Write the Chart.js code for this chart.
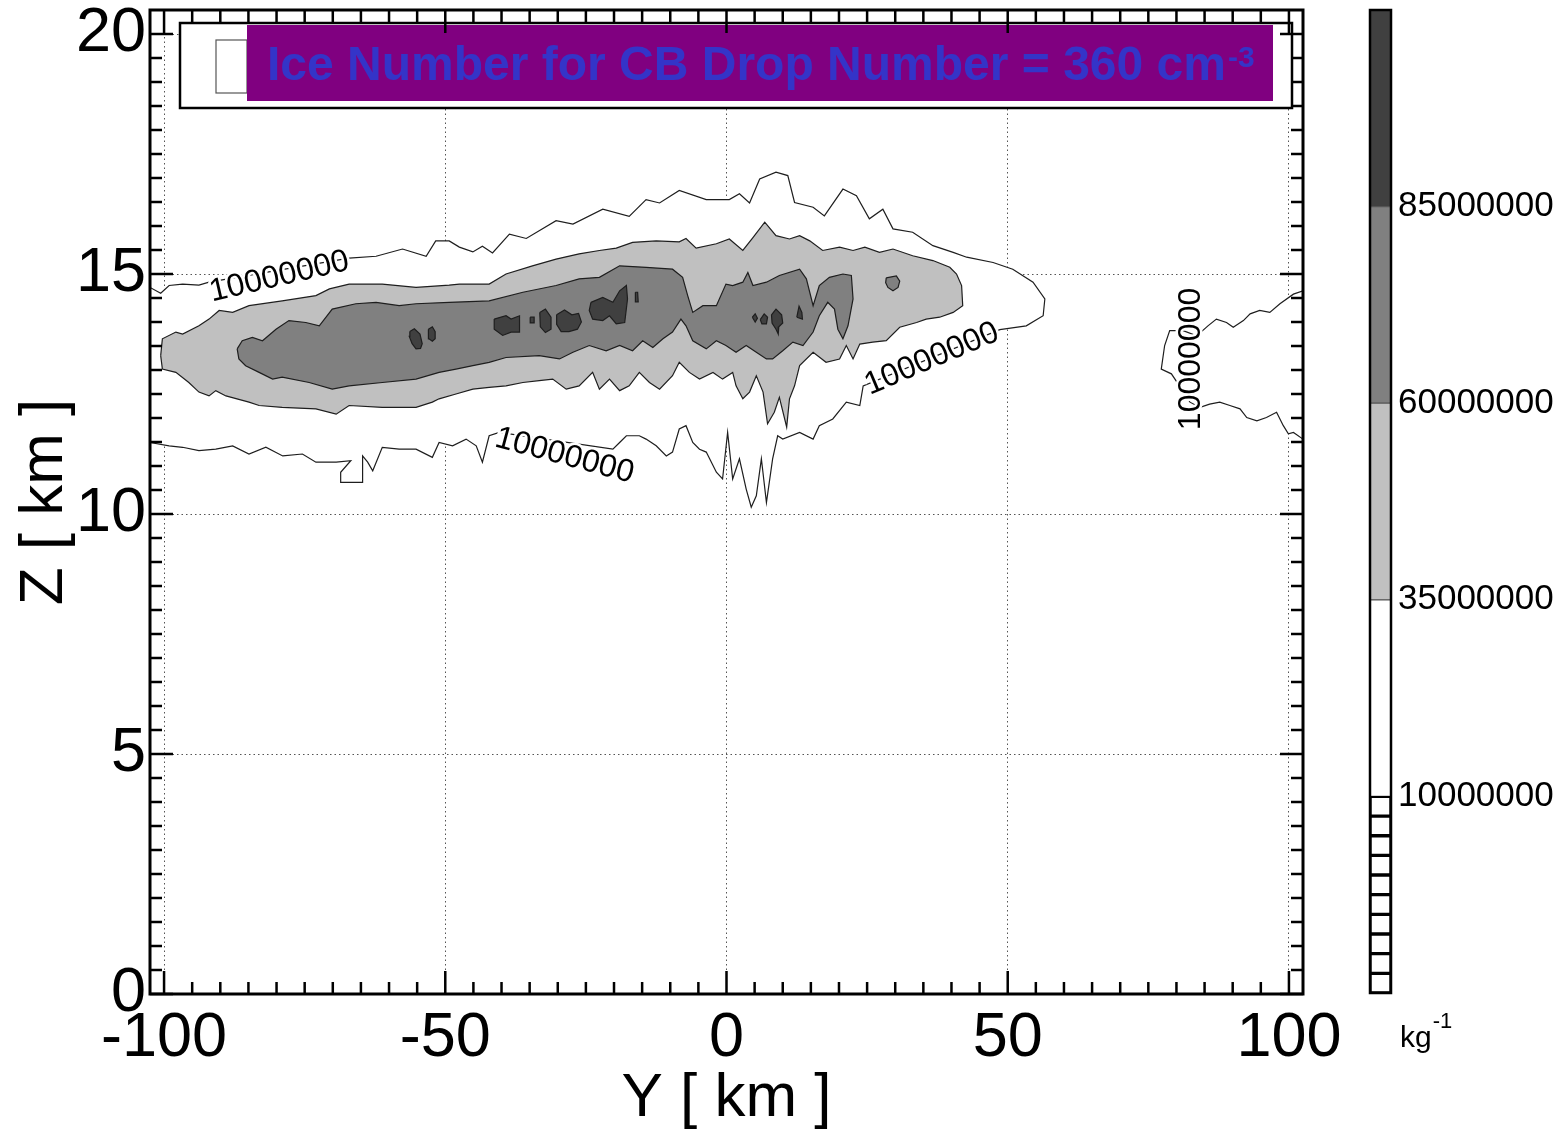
<!DOCTYPE html>
<html>
<head>
<meta charset="utf-8">
<script src="https://cdn.jsdelivr.net/npm/chart.js@4.4.1/dist/chart.umd.min.js"></script>
<style>
html, body { margin: 0; padding: 0; background: #fff; }
#wrap { position: relative; width: 1563px; height: 1133px; }
#main { position: absolute; left: 0; top: 0; }
#bar { position: absolute; left: 1340px; top: 0; }
</style>
</head>
<body>
<div id="wrap">
<canvas id="main" width="1340" height="1133"></canvas>
<canvas id="bar" width="223" height="1133"></canvas>
</div>
<script>
// ======================================
// Data (Y [km], Z [km])
// ======================================

const xMajor = [-100, -50, 0, 50, 100];
const yMajor = [0, 5, 10, 15, 20];

// 10000000 kg-1 contour, main cloud (closed along the left border)
const c10Main = [
    [-102.5, 14.72], [-100.6, 14.60], [-99.1, 14.76], [-96.7, 14.79], [-93.8, 14.77], [-92.0, 14.83],
    [-67.1, 15.33], [-62.3, 15.37], [-57.6, 15.52], [-53.4, 15.37], [-51.7, 15.69], [-49.3, 15.69],
    [-47.5, 15.56], [-45.1, 15.46], [-43.4, 15.58], [-41.6, 15.44], [-38.6, 15.83], [-35.6, 15.74],
    [-30.3, 16.11], [-27.3, 16.04], [-22.0, 16.35], [-17.3, 16.20], [-14.3, 16.55], [-11.9, 16.48],
    [-8.4, 16.74], [-3.6, 16.55], [0.5, 16.55], [2.3, 16.67], [4.1, 16.48], [5.9, 16.98],
    [8.8, 17.12], [10.9, 17.05], [12.1, 16.49], [15.4, 16.39], [17.4, 16.21], [20.7, 16.77],
    [23.1, 16.63], [25.4, 16.15], [27.8, 16.35], [29.6, 15.94], [33.1, 15.87], [36.7, 15.59],
    [40.3, 15.45], [42.7, 15.35], [47.4, 15.24], [50.9, 15.10], [54.5, 14.83], [56.6, 14.48],
    [56.3, 14.13], [53.3, 13.92], [48.6, 13.84],
    [24.3, 12.67], [23.7, 12.26], [21.3, 12.33], [18.9, 11.98], [16.5, 11.84], [15.4, 11.56],
    [13.0, 11.70], [10.0, 11.56], [9.1, 11.63], [8.2, 11.15], [7.1, 10.24], [6.2, 11.15],
    [5.3, 10.38], [4.4, 10.14], [3.5, 10.52], [2.3, 11.15], [1.1, 10.73], [0.2, 11.70],
    [-0.7, 10.73], [-1.8, 10.87], [-3.6, 11.29], [-4.8, 11.35], [-6.0, 11.49], [-7.2, 11.84],
    [-8.4, 11.77], [-9.6, 11.29], [-10.7, 11.21], [-12.5, 11.42], [-14.3, 11.56], [-15.5, 11.63],
    [-17.8, 11.63], [-19.0, 11.49], [-20.2, 11.35],
    [-40.4, 11.70], [-42.2, 11.63], [-43.4, 11.08], [-44.5, 11.42], [-46.3, 11.56], [-48.7, 11.42],
    [-51.1, 11.49], [-52.3, 11.18], [-55.2, 11.35], [-58.2, 11.35], [-61.2, 11.39], [-62.9, 10.90],
    [-63.8, 11.08], [-64.7, 11.21], [-64.7, 10.66], [-68.6, 10.66], [-68.6, 10.87], [-66.8, 11.11],
    [-69.4, 11.08], [-73.0, 11.08], [-75.4, 11.25], [-78.9, 11.21], [-81.9, 11.39], [-84.9, 11.25],
    [-87.8, 11.42], [-90.8, 11.35], [-93.8, 11.32], [-96.7, 11.39], [-99.1, 11.42], [-102.5, 11.49]
];

// 10000000 kg-1 contour entering from the right border
const c10Right = [
    [102.5, 14.65], [100.8, 14.58], [98.4, 14.38], [96.6, 14.20], [94.8, 14.24], [93.1, 14.17],
    [91.9, 14.03], [90.1, 13.89], [88.9, 13.99], [87.1, 14.06], [85.6, 13.92], [83.6, 13.71],
    [81.2, 13.82], [78.8, 13.82], [77.9, 13.51], [77.3, 13.02], [79.1, 12.92], [80.3, 12.71],
    [82.4, 12.33], [84.2, 12.22], [85.9, 12.29], [87.7, 12.33], [89.5, 12.26], [91.3, 12.19],
    [92.5, 12.01], [94.3, 11.94], [96.0, 12.01], [97.8, 12.12], [99.0, 11.84], [99.9, 11.67],
    [100.8, 11.70], [102.5, 11.56]
];

// 35000000 kg-1 band
const c35 = [
    [-100.6, 13.30], [-100.3, 13.65], [-97.9, 13.79], [-96.7, 13.75], [-93.8, 13.92], [-92.0, 14.06],
    [-90.2, 14.24], [-87.8, 14.20], [-84.9, 14.34], [-79.0, 14.44], [-73.0, 14.55], [-70.6, 14.69],
    [-67.1, 14.79], [-61.2, 14.79], [-55.2, 14.72], [-49.3, 14.77], [-47.5, 14.79], [-42.2, 14.79],
    [-39.2, 15.00], [-34.5, 15.17], [-30.3, 15.31], [-26.2, 15.42], [-22.6, 15.49], [-19.6, 15.54],
    [-16.7, 15.66], [-12.5, 15.69], [-8.4, 15.67], [-7.2, 15.74], [-5.4, 15.54], [-1.8, 15.63],
    [0.5, 15.73], [2.9, 15.49], [4.7, 15.76], [6.8, 16.08], [8.8, 15.80], [11.2, 15.73],
    [13.0, 15.80], [14.8, 15.69], [17.1, 15.49], [20.1, 15.56], [22.5, 15.49], [24.6, 15.56],
    [27.2, 15.45], [29.6, 15.52], [33.1, 15.38], [36.7, 15.28], [39.7, 15.14], [40.9, 15.00],
    [41.8, 14.76], [42.0, 14.34], [40.3, 14.20], [37.9, 14.10], [35.5, 14.06], [33.8, 13.99],
    [30.8, 13.89], [28.4, 13.61], [26.0, 13.58], [23.7, 13.54], [22.5, 13.23], [21.3, 13.51],
    [20.1, 13.23], [17.7, 13.16], [15.4, 13.37], [13.0, 13.09], [12.1, 12.67], [11.2, 12.40],
    [10.7, 11.81], [9.4, 12.43], [8.5, 12.12], [7.3, 11.88], [6.5, 12.54], [5.3, 12.88],
    [4.1, 12.54], [2.9, 12.40], [1.7, 12.67], [1.1, 12.95], [-0.7, 12.81], [-2.4, 12.95],
    [-4.8, 12.81], [-6.6, 12.95], [-8.4, 13.16], [-9.6, 12.88], [-11.9, 12.60], [-13.7, 12.74],
    [-15.5, 12.95], [-17.3, 12.67], [-19.0, 12.57], [-20.8, 12.81], [-22.6, 12.60], [-23.8, 12.95],
    [-26.2, 12.67], [-28.5, 12.60], [-30.9, 12.81], [-33.3, 12.78], [-36.2, 12.74], [-39.2, 12.67],
    [-42.2, 12.64], [-45.1, 12.60], [-48.1, 12.50], [-51.1, 12.40], [-52.3, 12.33], [-55.2, 12.22],
    [-61.2, 12.22], [-67.1, 12.26], [-69.4, 12.08], [-73.0, 12.19], [-79.0, 12.22], [-83.1, 12.26],
    [-84.9, 12.33], [-89.0, 12.46], [-90.8, 12.57], [-92.0, 12.46], [-93.8, 12.54], [-95.6, 12.74],
    [-97.9, 12.95], [-100.3, 13.02]
];

// 60000000 kg-1 band
const c60Main = [
    [-87.0, 13.44], [-86.1, 13.61], [-84.3, 13.68], [-82.5, 13.61], [-80.1, 13.85], [-77.8, 14.03],
    [-74.8, 13.99], [-72.4, 13.92], [-70.1, 14.27], [-65.9, 14.38], [-62.3, 14.41], [-58.2, 14.34],
    [-55.2, 14.38], [-49.3, 14.41], [-42.2, 14.44], [-36.2, 14.62], [-30.3, 14.76], [-26.2, 14.90],
    [-22.6, 14.93], [-19.0, 15.17], [-14.3, 15.14], [-9.6, 15.10], [-7.8, 14.93], [-6.9, 14.55],
    [-6.0, 14.20], [-4.2, 14.34], [-1.8, 14.34], [-0.1, 14.79], [1.1, 14.76], [2.9, 14.83],
    [3.8, 15.03], [4.7, 14.76], [7.1, 14.83], [9.4, 14.97], [13.0, 15.10], [14.2, 14.90],
    [15.4, 14.34], [16.5, 14.76], [18.3, 14.93], [20.7, 15.00], [22.2, 14.97], [22.5, 14.48],
    [21.6, 13.92], [20.7, 13.65], [19.8, 13.85], [19.2, 14.27], [18.0, 14.41], [16.5, 14.13],
    [15.4, 13.79], [13.6, 13.51], [11.8, 13.58], [10.0, 13.40], [8.2, 13.23], [7.1, 13.23],
    [5.3, 13.37], [3.5, 13.51], [1.7, 13.37], [-0.1, 13.51], [-1.8, 13.61], [-3.6, 13.44],
    [-6.0, 13.61], [-7.2, 13.92], [-8.1, 14.06], [-9.6, 13.79], [-11.3, 13.65], [-13.1, 13.47],
    [-14.9, 13.61], [-16.7, 13.40], [-19.0, 13.51], [-21.4, 13.40], [-24.4, 13.51], [-27.3, 13.37],
    [-29.7, 13.23], [-33.3, 13.30], [-39.2, 13.26], [-42.2, 13.16], [-45.1, 13.09], [-48.1, 13.02],
    [-51.1, 12.95], [-55.2, 12.81], [-61.2, 12.74], [-67.1, 12.67], [-70.1, 12.60], [-74.2, 12.74],
    [-79.0, 12.85], [-80.7, 12.81], [-83.1, 12.95], [-85.5, 13.09], [-86.7, 13.23]
];

const c60Island = [
    [28.4, 14.92], [30.2, 14.96], [30.8, 14.85], [30.5, 14.72], [29.6, 14.65], [28.7, 14.72], [28.3, 14.82]
];

// 85000000 kg-1 cells
const c85Cells = [
    [[-56.3, 13.80], [-55.5, 13.86], [-54.5, 13.75], [-54.1, 13.55], [-54.4, 13.45], [-55.2, 13.44], [-55.9, 13.55], [-56.4, 13.70]],
    [[-53.0, 13.85], [-52.3, 13.90], [-51.8, 13.80], [-51.8, 13.65], [-52.3, 13.60], [-52.9, 13.65]],
    [[-41.3, 14.06], [-39.2, 14.13], [-38.3, 14.06], [-36.8, 14.13], [-36.8, 13.79], [-38.3, 13.79], [-39.8, 13.72], [-41.3, 13.85]],
    [[-34.9, 14.10], [-34.2, 14.10], [-34.2, 13.98], [-34.9, 13.98]],
    [[-33.2, 14.20], [-32.2, 14.27], [-31.2, 14.10], [-31.2, 13.85], [-32.2, 13.78], [-33.1, 13.90]],
    [[-30.2, 14.15], [-28.8, 14.25], [-27.5, 14.15], [-26.3, 14.18], [-25.8, 14.00], [-26.5, 13.85], [-28.0, 13.80], [-29.4, 13.80], [-30.2, 13.95]],
    [[-24.1, 14.41], [-22.0, 14.51], [-20.2, 14.41], [-19.0, 14.65], [-17.8, 14.76], [-17.6, 14.48], [-18.1, 13.99], [-19.6, 13.96], [-20.8, 14.13], [-22.0, 14.03], [-23.8, 14.06], [-24.4, 14.24]],
    [[-16.2, 14.62], [-15.8, 14.62], [-15.7, 14.42], [-16.2, 14.42]],
    [[4.6, 14.10], [5.1, 14.17], [5.5, 14.08], [5.1, 14.00]],
    [[6.0, 14.05], [6.7, 14.17], [7.3, 14.10], [7.1, 13.96], [6.3, 13.96]],
    [[8.0, 14.15], [8.8, 14.27], [9.8, 14.15], [10.0, 13.98], [9.3, 13.90], [9.2, 13.75], [8.8, 13.85], [8.1, 13.98]],
    [[12.5, 14.10], [12.9, 14.33], [13.4, 14.20], [13.5, 14.06]]
];

// contour labels
const contourLabel = "10000000";
const labelX = [-79.5, -28.8, 36.5, 82.7];
const labelY = [14.94, 11.21, 13.23, 13.23];
const labelAngle = [-13, 15, -23, -90];

// colour bar levels (kg-1)
const cbLevels = [0, 1e6, 2e6, 3e6, 4e6, 5e6, 6e6, 7e6, 8e6, 9e6, 1e7, 3.5e7, 6e7, 8.5e7, 1.1e8];
const cbColors = ["#ffffff", "#ffffff", "#ffffff", "#ffffff", "#ffffff", "#ffffff", "#ffffff",
    "#ffffff", "#ffffff", "#ffffff", "#ffffff", "#c0c0c0", "#808080", "#404040"];
const cbTickLevels = [1e7, 3.5e7, 6e7, 8.5e7];

const titleText = "Ice Number for CB Drop Number = 360 cm";
const titleSup = "-3";

// ======================================
// Helpers
// ======================================

const FONT = "'Liberation Sans', Arial, Helvetica, sans-serif";
Chart.defaults.font.family = FONT;
Chart.defaults.color = "#000";

function isIn(list, v) {
    return list.some(m => Math.abs(m - v) < 1e-6);
}

function polygon(pts, color, order) {
    const data = pts.map(p => ({ x: p[0], y: p[1] }));
    data.push({ x: pts[0][0], y: pts[0][1] });
    return {
        data: data,
        order: order,
        fill: "shape",
        backgroundColor: color,
        borderColor: "#1e1e1e",
        borderWidth: 1.2,
        pointRadius: 0,
        tension: 0
    };
}

function stepList(from, to, step) {
    const out = [];
    for (let v = from; v <= to + 1e-9; v += step) out.push(Math.round(v * 100) / 100);
    return out;
}

// no overflow padding for tick labels, the plot box is fixed
function noOverflow(s) {
    s.paddingTop = 0;
    s.paddingBottom = 0;
    s.paddingLeft = 0;
    s.paddingRight = 0;
}

// ======================================
// Plugins
// ======================================

const frameTicks = {
    id: "frameTicks",
    afterDraw(chart) {
        const { ctx, chartArea: a, scales: { x, y } } = chart;
        ctx.save();
        ctx.strokeStyle = "#000";
        ctx.lineWidth = 2.5;
        ctx.beginPath();
        x.ticks.forEach(t => {
            const p = x.getPixelForValue(t.value);
            const len = isIn(xMajor, t.value) ? 23 : 12;
            ctx.moveTo(p, a.bottom); ctx.lineTo(p, a.bottom - len);
            ctx.moveTo(p, a.top); ctx.lineTo(p, a.top + len);
        });
        y.ticks.forEach(t => {
            const p = y.getPixelForValue(t.value);
            const len = isIn(yMajor, t.value) ? 23 : 12;
            ctx.moveTo(a.left, p); ctx.lineTo(a.left + len, p);
            ctx.moveTo(a.right, p); ctx.lineTo(a.right - len, p);
        });
        ctx.stroke();
        ctx.lineWidth = 3;
        ctx.strokeRect(a.left, a.top, a.right - a.left, a.bottom - a.top);
        ctx.restore();
    }
};

const contourLabels = {
    id: "contourLabels",
    afterDatasetsDraw(chart) {
        const { ctx, scales: { x, y } } = chart;
        ctx.save();
        ctx.font = "32px " + FONT;
        ctx.textAlign = "center";
        ctx.textBaseline = "middle";
        labelX.forEach((lx, i) => {
            ctx.save();
            ctx.translate(x.getPixelForValue(lx), y.getPixelForValue(labelY[i]));
            ctx.rotate(labelAngle[i] * Math.PI / 180);
            ctx.lineWidth = 5;
            ctx.strokeStyle = "#fff";
            ctx.strokeText(contourLabel, 0, 0);
            ctx.fillStyle = "#000";
            ctx.fillText(contourLabel, 0, 0);
            ctx.restore();
        });
        ctx.restore();
    }
};

const titleBox = {
    id: "titleBox",
    afterDatasetsDraw(chart) {
        const { ctx, chartArea: a } = chart;
        const L = a.left, T = a.top;
        ctx.save();
        ctx.fillStyle = "#fff";
        ctx.fillRect(L + 30, T + 13, 1112, 85);
        ctx.strokeStyle = "#000";
        ctx.lineWidth = 2.5;
        ctx.strokeRect(L + 30, T + 13, 1112, 85);
        ctx.lineWidth = 1.2;
        ctx.strokeStyle = "#555";
        ctx.strokeRect(L + 66, T + 30, 31, 53);
        ctx.fillStyle = "#800080";
        ctx.fillRect(L + 97, T + 15, 1026, 76);
        ctx.fillStyle = "#3434c8";
        ctx.textBaseline = "alphabetic";
        ctx.font = "bold 48px " + FONT;
        ctx.fillText(titleText, L + 117, T + 70);
        const w = ctx.measureText(titleText).width;
        ctx.font = "bold 30px " + FONT;
        ctx.fillText(titleSup, L + 117 + w + 2, T + 57);
        ctx.restore();
    }
};

// ======================================
// Main chart
// ======================================

const datasets = [
    polygon(c10Main, "#ffffff", 6),
    polygon(c10Right, "#ffffff", 6),
    polygon(c35, "#c0c0c0", 5),
    polygon(c60Main, "#808080", 4),
    polygon(c60Island, "#808080", 4)
].concat(c85Cells.map(c => polygon(c, "#404040", 3)));

const tickFont = { size: 63, family: FONT };

new Chart(document.getElementById("main"), {
    type: "line",
    data: { datasets: datasets },
    options: {
        responsive: false,
        animation: false,
        layout: { padding: { top: 10, right: 37, bottom: 0, left: 0 } },
        plugins: {
            legend: { display: false },
            tooltip: { enabled: false },
            filler: { propagate: false }
        },
        scales: {
            x: {
                type: "linear",
                min: -102.5,
                max: 102.5,
                afterBuildTicks: s => { s.ticks = stepList(-100, 100, 5).map(v => ({ value: v })); },
                afterFit: s => { s.height = 139; noOverflow(s); },
                ticks: {
                    autoSkip: false,
                    maxRotation: 0,
                    padding: 7,
                    font: tickFont,
                    color: "#000",
                    callback: v => isIn(xMajor, v) ? String(v) : ""
                },
                grid: {
                    drawTicks: false,
                    lineWidth: 1,
                    color: c => (c.tick && isIn(xMajor, c.tick.value)) ? "#555" : "rgba(0,0,0,0)"
                },
                border: { display: false, dash: [1.5, 3] },
                title: {
                    display: true,
                    text: "Y [ km ]",
                    font: { size: 62, family: FONT, lineHeight: 1 },
                    color: "#000",
                    padding: { top: 0, bottom: 3 }
                }
            },
            y: {
                type: "linear",
                min: 0,
                max: 20.5,
                afterBuildTicks: s => { s.ticks = stepList(0, 20, 0.5).map(v => ({ value: v })); },
                afterFit: s => { s.width = 150; noOverflow(s); },
                ticks: {
                    autoSkip: false,
                    padding: 4,
                    font: tickFont,
                    color: "#000",
                    callback: v => isIn(yMajor, v) ? String(v) : ""
                },
                grid: {
                    drawTicks: false,
                    lineWidth: 1,
                    color: c => (c.tick && isIn(yMajor, c.tick.value)) ? "#555" : "rgba(0,0,0,0)"
                },
                border: { display: false, dash: [1.5, 3] },
                title: {
                    display: true,
                    text: "Z [ km ]",
                    font: { size: 62, family: FONT, lineHeight: 1 },
                    color: "#000",
                    padding: { top: 14, bottom: 0 }
                }
            }
        }
    },
    plugins: [contourLabels, titleBox, frameTicks]
});

// ======================================
// Colour bar
// ======================================

function cbPos(v) {
    return v <= 1e7 ? v / 1e7 : 1 + (v - 1e7) / 2.5e7;
}

const cbFrame = {
    id: "cbFrame",
    afterDraw(chart) {
        const { ctx, chartArea: a } = chart;
        ctx.save();
        ctx.strokeStyle = "#000";
        ctx.lineWidth = 2.5;
        ctx.strokeRect(a.left, a.top, a.right - a.left, a.bottom - a.top);
        ctx.fillStyle = "#000";
        ctx.textBaseline = "alphabetic";
        ctx.font = "30px " + FONT;
        ctx.fillText("kg", 60, 1047);
        const w = ctx.measureText("kg").width;
        ctx.font = "22px " + FONT;
        ctx.fillText("-1", 60 + w + 1, 1028);
        ctx.restore();
    }
};

new Chart(document.getElementById("bar"), {
    type: "bar",
    data: {
        labels: [""],
        datasets: cbColors.map((c, i) => ({
            data: [[cbPos(cbLevels[i]), cbPos(cbLevels[i + 1])]],
            backgroundColor: c,
            borderColor: i < 10 ? "#000" : "#555",
            borderWidth: i < 10 ? 2 : 1,
            borderSkipped: false,
            grouped: false,
            barPercentage: 1,
            categoryPercentage: 1
        }))
    },
    options: {
        responsive: false,
        animation: false,
        layout: { padding: { top: 10, right: 0, bottom: 140, left: 30 } },
        plugins: { legend: { display: false }, tooltip: { enabled: false } },
        scales: {
            x: { display: false },
            y: {
                position: "right",
                min: 0,
                max: 5,
                afterBuildTicks: s => { s.ticks = cbTickLevels.map(v => ({ value: cbPos(v) })); },
                afterFit: s => { s.width = 172; noOverflow(s); },
                ticks: {
                    padding: 7,
                    font: { size: 35, family: FONT },
                    color: "#000",
                    callback: (v, i) => String(cbTickLevels[i])
                },
                grid: { display: false, drawTicks: false },
                border: { display: false }
            }
        }
    },
    plugins: [cbFrame]
});
</script>
</body>
</html>
